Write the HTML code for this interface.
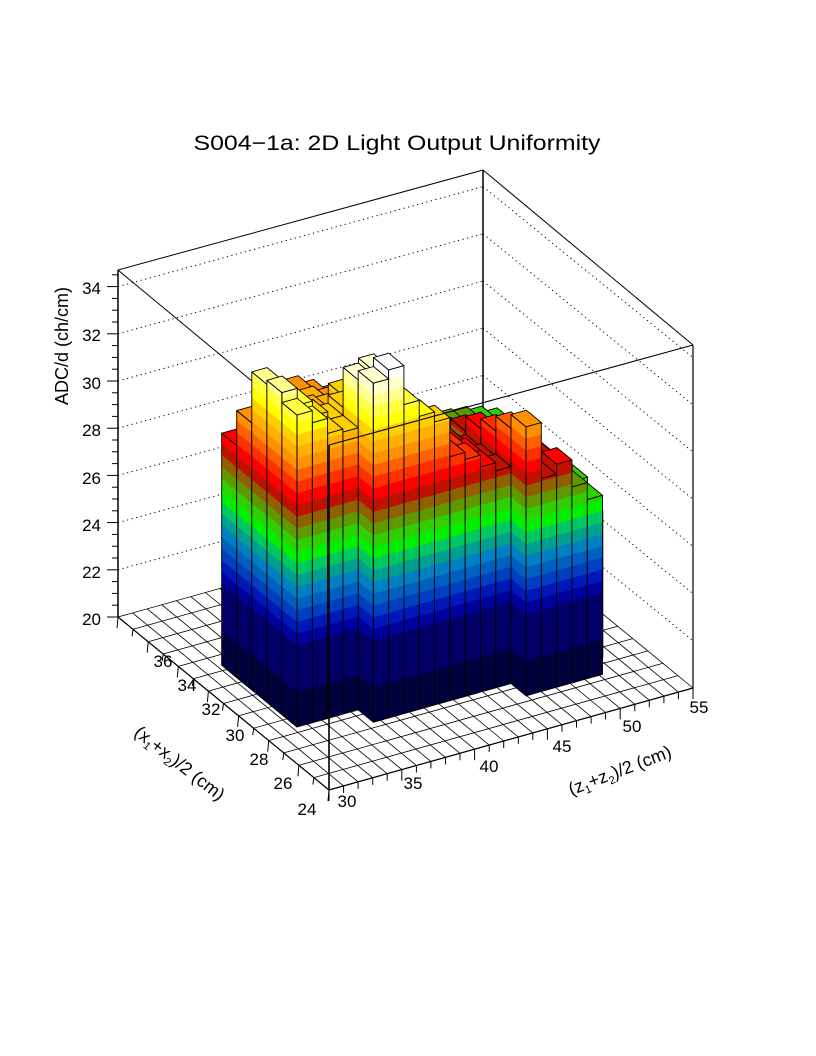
<!DOCTYPE html>
<html><head><meta charset="utf-8">
<style>
html,body{margin:0;padding:0;background:#fff;}
svg{display:block;}
text{font-family:"Liberation Sans",sans-serif;fill:#000;}
</style></head>
<body>
<svg id="s" width="816" height="1056" viewBox="0 0 816 1056" xmlns="http://www.w3.org/2000/svg">
<rect width="816" height="1056" fill="#fff"/>
<text x="397" y="150" font-size="21" text-anchor="middle" textLength="407" lengthAdjust="spacingAndGlyphs">S004−1a: 2D Light Output Uniformity</text>
<g id="back"></g>
<g id="bars"></g>
<g id="front"></g>
<g font-size="17" text-anchor="end">
<text x="101" y="625">20</text><text x="101" y="578">22</text><text x="101" y="531">24</text>
<text x="101" y="484">26</text><text x="101" y="436">28</text><text x="101" y="389">30</text>
<text x="101" y="341">32</text><text x="101" y="294">34</text>
</g>
<text transform="translate(68,346) rotate(-90)" font-size="18" text-anchor="middle">ADC/d (ch/cm)</text>
<g font-size="17" text-anchor="middle">
<text x="307" y="815">24</text><text x="283" y="789">26</text><text x="259" y="765">28</text>
<text x="235" y="741">30</text><text x="211" y="715">32</text><text x="187" y="691">34</text>
<text x="163" y="667">36</text>
<text x="347" y="807">30</text><text x="413" y="789">35</text><text x="489" y="772">40</text>
<text x="562" y="752">45</text><text x="632" y="732">50</text><text x="699" y="713">55</text>
</g>
<text transform="translate(176,768) rotate(38)" font-size="18" text-anchor="middle">(x<tspan font-size="11" dy="4">1</tspan><tspan dy="-4">+x</tspan><tspan font-size="11" dy="4">2</tspan><tspan dy="-4">)/2 (cm)</tspan></text>
<text transform="translate(622,776) rotate(-21)" font-size="18" text-anchor="middle">(z<tspan font-size="11" dy="4">1</tspan><tspan dy="-4">+z</tspan><tspan font-size="11" dy="4">2</tspan><tspan dy="-4">)/2 (cm)</tspan></text>
</svg>
<script>
(function(){
var NS="http://www.w3.org/2000/svg";
function el(p,t,a){var e=document.createElementNS(NS,t);for(var k in a)e.setAttribute(k,a[k]);p.appendChild(e);return e;}
var back=document.getElementById("back"),bars=document.getElementById("bars"),front=document.getElementById("front");
function P(u,v){return [329+14.56*u-15.07*v,790-4.08*u-12.36*v];}
function line(g,a,b,extra){var o={x1:a[0].toFixed(1),y1:a[1].toFixed(1),x2:b[0].toFixed(1),y2:b[1].toFixed(1),stroke:"#000","stroke-width":1};for(var k in extra)o[k]=extra[k];el(g,"line",o);}
for(var z=22;z<=34;z+=2){var o=(z-20)*23.6;
 line(back,[118,617-o],[483,517-o],{"stroke-dasharray":"1.2,3.5"});
 line(back,[483,517-o],[693,688-o],{"stroke-dasharray":"1.2,3.5"});}
for(var i=0;i<=25;i++)line(back,P(i,0),P(i,14),{"stroke-width":0.8});
for(var j=0;j<=14;j++)line(back,P(0,j),P(25,j),{"stroke-width":0.8});
line(back,[118,270],[118,617],{"stroke-width":1.5});
line(back,[483,170],[483,517],{"stroke-width":1.5});
line(back,[693,345],[693,688],{"stroke-width":1.2});
line(back,[118,270],[483,170]);line(back,[483,170],[693,345]);
line(back,[118,270],[329,445]);
for(var k=0;k<=29;k++){var y=617-k*11.8;line(back,[k%4==0?107:112,y],[118,y]);}
for(var j=0;j<=14;j++){var p=P(0,j);line(back,p,[p[0]-1,p[1]+(j%2==0?11:7)]);}
for(var i=0;i<=25;i++){var p=P(i,0);line(back,p,[p[0],p[1]+(i%5==0?11:7)]);}
var cols=["#00003c","#00003c","#00003c","#000068","#000068","#000068","#000068","#00009c","#0018b8","#0040c0","#0060c0","#0080c0","#00a090","#00c860","#00f000","#30d000","#609800","#906000","#c01000","#ff0000","#ff3000","#ff6000","#ff9000","#ffb000","#ffd000","#ffff00","#ffff40","#ffff90","#ffffd0","#ffffff"];
function col(k){return cols[Math.max(0,Math.min(cols.length-1,k))];}
var BH=11.7;
function S(c,r,h){return [297+15.3*c-15.07*r,727-4.3*c-12.36*r-h];}
var data=[];
function add(c0,r,arr){for(var q=0;q<arr.length;q++)if(arr[q]>0)data.push({c:c0+q,r:r,h:arr[q]});}
add(0,0,[312,300,285,282]);
add(0,1,[322,305,290,282]);
add(0,2,[318,300,285,278]);
add(0,3,[267,268,272,270]);
add(0,4,[232,245,255,262]);
add(4,-1,[339,348,309,293,283,244,237,225,217]);
add(4,0,[330,335,295,280,270,245,235,225,215]);
add(4,1,[290,300,280,265,250,238,230,222,212]);
add(4,2,[275,285,265,250,240,232,225,215,205]);
add(4,3,[270,265,255,240,230,222,215,205,198]);
add(4,4,[268,260,250,235,222,210,200,192,188]);
add(13,-2,[269,213,223,196,179]);
add(13,-1,[255,225,215,200,185,147]);
add(13,0,[240,220,212,195,182,160]);
add(13,1,[230,215,205,190,178,165]);
add(13,2,[215,205,195,185,175,165]);
add(13,3,[200,196,192,182,172,165]);
add(13,4,[188,192,190,186,180,170]);
data.sort(function(a,b){return (b.c*1.03+b.r)-(a.c*1.03+a.r);});
function poly(pts,fill,stroke,sw){var s=pts.map(function(p){return p[0].toFixed(1)+","+p[1].toFixed(1);}).join(" ");
 el(bars,"polygon",{points:s,fill:fill,stroke:stroke,"stroke-width":sw,"stroke-linejoin":"round"});}
data.forEach(function(d){var c=d.c,r=d.r,h=d.h;
 for(var k=0;k*BH<h;k++){var a=k*BH,b=Math.min(h,(k+1)*BH),f=col(k);
  poly([S(c,r,a),S(c,r+1,a),S(c,r+1,b),S(c,r,b)],f,f,0.6);
  poly([S(c,r,a),S(c+1,r,a),S(c+1,r,b),S(c,r,b)],f,f,0.6);}
 poly([S(c,r,0),S(c,r+1,0),S(c,r+1,h),S(c,r,h)],"none","#000",0.9);
 poly([S(c,r,0),S(c+1,r,0),S(c+1,r,h),S(c,r,h)],"none","#000",0.9);
 var tc=col(Math.floor((h-0.01)/BH));
 poly([S(c,r,h),S(c+1,r,h),S(c+1,r+1,h),S(c,r+1,h)],tc,"#000",0.9);
});
line(front,[329,445],[329,790],{"stroke-width":1.6});
line(front,[329,445],[693,345],{"stroke-width":1.1});
line(front,P(0,0),P(25,0),{"stroke-width":1.2});
line(front,P(0,0),P(0,14),{"stroke-width":1.2});
})();
</script>
</body></html>
